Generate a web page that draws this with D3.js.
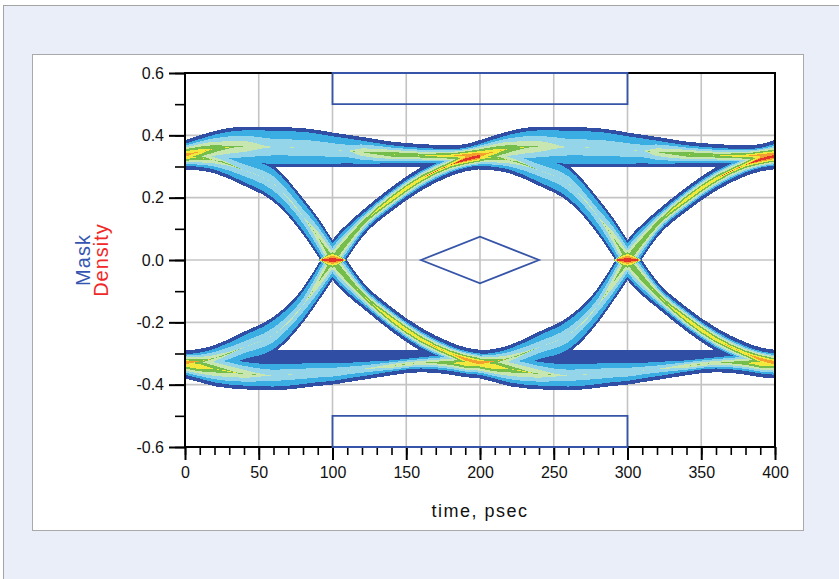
<!DOCTYPE html>
<html>
<head>
<meta charset="utf-8">
<script src="https://cdn.jsdelivr.net/npm/d3@7"></script>
<style>
  html, body { margin: 0; padding: 0; background: #fff; }
  svg { display: block; }
  text { font-family: "Liberation Sans", Arial, sans-serif; }
</style>
</head>
<body>
<script>
// Axis ranges and tick labels
var timeRange = [0, 400];          // psec
var levelRange = [-0.6, 0.6];      // V
var xTickLabels = [0, 50, 100, 150, 200, 250, 300, 350, 400];
var yTickLabels = [-0.6, -0.4, -0.2, 0.0, 0.2, 0.4, 0.6];

// Eye mask polygons (time, level)
var maskTop = [[100, 0.6], [300, 0.6], [300, 0.5], [100, 0.5]];
var maskBottom = [[100, -0.5], [300, -0.5], [300, -0.6], [100, -0.6]];
var maskCenter = [[160, 0], [200, 0.075], [240, 0], [200, -0.075]];

// One unit interval of the eye, repeated at these start times
var periodStarts = [-200, 0, 200];
var timeStops = [0, 10, 20, 40, 60, 80, 90, 100, 110, 120, 140, 160, 180, 190, 200];

// Trace families: centre level, half spread (V) and peak density level (1..8)
// upper rail (1 -> 1)
var upperMid    = [0.337, 0.347, 0.357, 0.364, 0.362, 0.36, 0.357, 0.353, 0.35, 0.346, 0.339, 0.335, 0.334, 0.336, 0.337];
var upperSpread = [0.048, 0.053, 0.057, 0.064, 0.065, 0.063, 0.06, 0.056, 0.052, 0.049, 0.041, 0.037, 0.034, 0.036, 0.048];
var upperPeak   = [7, 6, 5, 4, 3, 3, 3, 3, 3, 4, 5, 5, 6, 7, 7];
// lower rail (0 -> 0)
var lowerMid    = [-0.335, -0.342, -0.35, -0.365, -0.37, -0.365, -0.362, -0.36, -0.355, -0.35, -0.34, -0.33, -0.33, -0.333, -0.335];
var lowerSpread = [0.045, 0.05, 0.055, 0.05, 0.048, 0.045, 0.042, 0.04, 0.037, 0.035, 0.03, 0.03, 0.038, 0.043, 0.045];
var lowerPeak   = [6, 6, 5, 4, 3, 3, 3, 3, 3, 3, 4, 4, 5, 6, 6];
// sparse sheet above the lower rail
var sheetMid    = [-0.33, -0.325, -0.32, -0.312, -0.31, -0.308, -0.307, -0.306, -0.305, -0.304, -0.3, -0.296, -0.292, -0.29, -0.29];
var sheetSpread = [0, 0.006, 0.012, 0.022, 0.021, 0.02, 0.019, 0.018, 0.017, 0.016, 0.012, 0.007, 0.003, 0, 0];
var sheetPeak   = [1, 1, 1, 1, 1, 1, 1, 1, 1, 1, 1, 1, 1, 1, 1];
// falling edge (1 -> 0)
var fallMid     = [0.33, 0.327, 0.32, 0.288, 0.245, 0.14, 0.075, 0, -0.058, -0.11, -0.19, -0.255, -0.3, -0.318, -0.33];
var fallSpread  = [0.04, 0.04, 0.042, 0.05, 0.058, 0.058, 0.062, 0.065, 0.056, 0.043, 0.039, 0.038, 0.036, 0.038, 0.042];
var fallPeak    = [6, 5, 4, 3, 3, 3, 4, 5, 5, 5, 6, 6, 6, 7, 7];
// rising edge (0 -> 1)
var riseMid     = [-0.33, -0.325, -0.315, -0.28, -0.24, -0.145, -0.075, 0, 0.06, 0.115, 0.195, 0.26, 0.305, 0.322, 0.333];
var riseSpread  = [0.04, 0.04, 0.042, 0.05, 0.058, 0.056, 0.06, 0.065, 0.056, 0.043, 0.039, 0.038, 0.036, 0.038, 0.042];
var risePeak    = [7, 5, 4, 3, 3, 3, 4, 5, 5, 5, 6, 6, 6, 8, 8];
// dense spot where both edges cross
var crossMid    = [0, 0, 0, 0, 0, 0, 0, 0, 0, 0, 0, 0, 0, 0, 0];
var crossSpread = [0, 0, 0, 0, 0, 0, 0, 0.055, 0, 0, 0, 0, 0, 0, 0];
var crossPeak   = [1, 1, 1, 1, 1, 1, 1, 8, 1, 1, 1, 1, 1, 1, 1];

var families = [
    {mid: sheetMid, spread: sheetSpread, peak: sheetPeak},
    {mid: upperMid, spread: upperSpread, peak: upperPeak},
    {mid: lowerMid, spread: lowerSpread, peak: lowerPeak},
    {mid: fallMid, spread: fallSpread, peak: fallPeak},
    {mid: riseMid, spread: riseSpread, peak: risePeak},
    {mid: crossMid, spread: crossSpread, peak: crossPeak}
];

// density colour levels, low to high
var levelColors = ["#2f4ea4", "#3aade2", "#95d5ea", "#c8e6b0", "#76be4c", "#f2e93c", "#f3a02f", "#e3322a"];
var rim = 0.012;

var w = 839, h = 579;
var plot = {left: 185, right: 775, top: 73, bottom: 447};

var svg = d3.select("body").append("svg")
    .attr("width", w)
    .attr("height", h);

// outer background and white panel
svg.append("rect").attr("x", 3.5).attr("y", 5.5).attr("width", w).attr("height", h)
    .attr("fill", "#eaeef8").attr("stroke", "#a4a4a4");
svg.append("rect").attr("x", 32.5).attr("y", 54.5).attr("width", 771).attr("height", 476)
    .attr("fill", "#fff").attr("stroke", "#a9a9a9");

var xScale = d3.scaleLinear().domain(timeRange).range([plot.left, plot.right]);
var yScale = d3.scaleLinear().domain(levelRange).range([plot.bottom, plot.top]);

svg.append("clipPath").attr("id", "plotClip")
    .append("rect")
    .attr("x", plot.left).attr("y", plot.top)
    .attr("width", plot.right - plot.left).attr("height", plot.bottom - plot.top);

// grid
var grid = svg.append("g").attr("stroke", "#c4c4c4").attr("stroke-width", 1.6);
grid.selectAll(".vgrid")
    .data(xTickLabels.slice(1, -1))
    .enter().append("line")
    .attr("x1", function(d) { return xScale(d); })
    .attr("x2", function(d) { return xScale(d); })
    .attr("y1", plot.top).attr("y2", plot.bottom);
grid.selectAll(".hgrid")
    .data(yTickLabels.slice(1, -1))
    .enter().append("line")
    .attr("y1", function(d) { return yScale(d); })
    .attr("y2", function(d) { return yScale(d); })
    .attr("x1", plot.left).attr("x2", plot.right);

// density bands: each level drawn for every family, so higher levels sit on top
function bandWidth(f, i, k) {
    var s = f.spread[i], p = f.peak[i];
    if (k === 1) return s;
    if (p < k) return 0;
    var inner = Math.max(0, s - rim);
    return inner * (p - k + 1) / (p - 1);
}

var density = svg.append("g")
    .attr("clip-path", "url(#plotClip)")
    .attr("shape-rendering", "crispEdges");

d3.range(1, levelColors.length + 1).forEach(function(k) {
    periodStarts.forEach(function(t0) {
        families.forEach(function(f) {
            var area = d3.area()
                .x(function(d) { return xScale(t0 + d); })
                .y0(function(d, i) { return yScale(f.mid[i] - bandWidth(f, i, k)); })
                .y1(function(d, i) { return yScale(f.mid[i] + bandWidth(f, i, k)); })
                .curve(d3.curveMonotoneX);
            density.append("path")
                .attr("d", area(timeStops))
                .attr("fill", levelColors[k - 1]);
        });
    });
});

// axes
var fmt = function(d) { return d.toFixed(1); };

var xMinor = svg.append("g")
    .attr("transform", "translate(0," + plot.bottom + ")")
    .call(d3.axisBottom(xScale).ticks(40).tickSize(8).tickSizeOuter(0).tickFormat(""));
var xMajor = svg.append("g")
    .attr("transform", "translate(0," + plot.bottom + ")")
    .call(d3.axisBottom(xScale).tickValues(xTickLabels).tickSize(13).tickSizeOuter(0).tickPadding(7));
var yMinor = svg.append("g")
    .attr("transform", "translate(" + plot.left + ",0)")
    .call(d3.axisLeft(yScale).ticks(12).tickSize(10).tickSizeOuter(0).tickFormat(""));
var yMajor = svg.append("g")
    .attr("transform", "translate(" + plot.left + ",0)")
    .call(d3.axisLeft(yScale).tickValues(yTickLabels).tickSize(16).tickSizeOuter(0).tickPadding(5).tickFormat(fmt));

[xMinor, xMajor, yMinor, yMajor].forEach(function(g) {
    g.select(".domain").remove();
    g.selectAll(".tick line").attr("stroke", "#000");
    g.selectAll(".tick text")
        .attr("fill", "#111")
        .attr("font-size", "16px")
        .attr("font-family", "Liberation Sans, Arial, sans-serif");
});
xMajor.selectAll(".tick line").attr("stroke-width", 2);
yMajor.selectAll(".tick line").attr("stroke-width", 2);
xMinor.selectAll(".tick line").attr("stroke-width", 1.6);
yMinor.selectAll(".tick line").attr("stroke-width", 1.6);

// plot frame
svg.append("rect")
    .attr("x", plot.left).attr("y", plot.top)
    .attr("width", plot.right - plot.left).attr("height", plot.bottom - plot.top)
    .attr("fill", "none").attr("stroke", "#000").attr("stroke-width", 2);

// mask
var maskLine = d3.line()
    .x(function(d) { return xScale(d[0]); })
    .y(function(d) { return yScale(d[1]); })
    .curve(d3.curveLinearClosed);
svg.selectAll(".mask")
    .data([maskTop, maskBottom, maskCenter])
    .enter().append("path")
    .attr("class", "mask")
    .attr("d", maskLine)
    .attr("fill", "none")
    .attr("stroke", "#3654a8")
    .attr("stroke-width", 1.8);

// axis titles
svg.append("text")
    .attr("x", xScale(200)).attr("y", 517)
    .attr("text-anchor", "middle")
    .attr("font-size", "18px")
    .attr("letter-spacing", "1.5px")
    .attr("fill", "#111")
    .text("time, psec");

var yTitle = svg.append("g")
    .attr("transform", "translate(0," + yScale(0) + ") rotate(-90)");
yTitle.append("text")
    .attr("x", 0).attr("y", 90)
    .attr("text-anchor", "middle")
    .attr("font-size", "20px")
    .attr("letter-spacing", "1px")
    .attr("fill", "#3456b0")
    .text("Mask");
yTitle.append("text")
    .attr("x", 0).attr("y", 108)
    .attr("text-anchor", "middle")
    .attr("font-size", "20px")
    .attr("letter-spacing", "1px")
    .attr("fill", "#f02828")
    .text("Density");
</script>
</body>
</html>
